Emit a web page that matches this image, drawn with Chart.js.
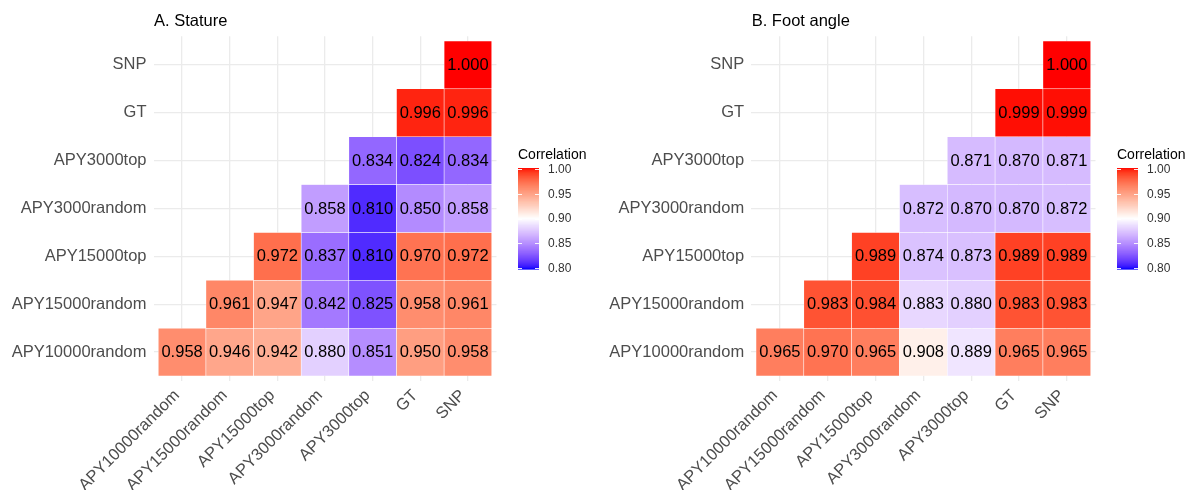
<!DOCTYPE html>
<html><head><meta charset="utf-8">
<script src="https://cdn.jsdelivr.net/npm/chart.js@4.4.1/dist/chart.umd.min.js"></script>
<style>
html,body{margin:0;padding:0;background:#fff;}
#wrap{width:1190px;height:490px;display:flex;}
.panel{width:595px;height:490px;position:relative;}
canvas{display:block;}
</style></head><body>
<div id="wrap">
  <div class="panel"><canvas id="c1" width="595" height="490"></canvas></div>
  <div class="panel"><canvas id="c2" width="595" height="490"></canvas></div>
</div>
<script>
// ---- data ----
const categories = ['APY10000random','APY15000random','APY15000top','APY3000random','APY3000top','GT','SNP'];
// row r (from bottom) holds the correlations for columns r .. 6
const statureValues = [
  [0.958, 0.946, 0.942, 0.880, 0.851, 0.950, 0.958],
  [0.961, 0.947, 0.842, 0.825, 0.958, 0.961],
  [0.972, 0.837, 0.810, 0.970, 0.972],
  [0.858, 0.810, 0.850, 0.858],
  [0.834, 0.824, 0.834],
  [0.996, 0.996],
  [1.000]
];
const footAngleValues = [
  [0.965, 0.970, 0.965, 0.908, 0.889, 0.965, 0.965],
  [0.983, 0.984, 0.883, 0.880, 0.983, 0.983],
  [0.989, 0.874, 0.873, 0.989, 0.989],
  [0.872, 0.870, 0.870, 0.872],
  [0.871, 0.870, 0.871],
  [0.999, 0.999],
  [1.000]
];
const panelTitles = ['A. Stature', 'B. Foot angle'];
const legendTitle = 'Correlation';
const legendTicks = [0.80, 0.85, 0.90, 0.95, 1.00];
const colorLimits = [0.80, 1.00];
const colorMid = 0.90;

// ---- colour scale (blue - white - red, interpolated in CIELAB) ----
function srgbToLab(rgb) {
  const lin = c => { c /= 255; return c <= 0.04045 ? c / 12.92 : Math.pow((c + 0.055) / 1.055, 2.4); };
  const R = lin(rgb[0]), G = lin(rgb[1]), B = lin(rgb[2]);
  const X = (R * 0.4124564 + G * 0.3575761 + B * 0.1804375) / 0.95047;
  const Y = (R * 0.2126729 + G * 0.7151522 + B * 0.0721750);
  const Z = (R * 0.0193339 + G * 0.1191920 + B * 0.9503041) / 1.08883;
  const f = t => t > 0.008856 ? Math.cbrt(t) : (7.787 * t + 16 / 116);
  const fx = f(X), fy = f(Y), fz = f(Z);
  return [116 * fy - 16, 500 * (fx - fy), 200 * (fy - fz)];
}
function labToSrgb(lab) {
  const fy = (lab[0] + 16) / 116, fx = fy + lab[1] / 500, fz = fy - lab[2] / 200;
  const finv = t => t * t * t > 0.008856 ? t * t * t : (t - 16 / 116) / 7.787;
  const X = finv(fx) * 0.95047, Y = finv(fy), Z = finv(fz) * 1.08883;
  const R = 3.2404542 * X - 1.5371385 * Y - 0.4985314 * Z;
  const G = -0.9692660 * X + 1.8760108 * Y + 0.0415560 * Z;
  const B = 0.0556434 * X - 0.2040259 * Y + 1.0572252 * Z;
  const gam = c => { c = c <= 0.0031308 ? 12.92 * c : 1.055 * Math.pow(c, 1 / 2.4) - 0.055; return Math.round(Math.max(0, Math.min(1, c)) * 255); };
  return [gam(R), gam(G), gam(B)];
}
const LAB_LOW = srgbToLab([0, 0, 255]), LAB_MID = srgbToLab([255, 255, 255]), LAB_HIGH = srgbToLab([255, 0, 0]);
function fillFor(v) {
  const half = Math.max(Math.abs(colorLimits[0] - colorMid), Math.abs(colorLimits[1] - colorMid));
  let t = (v - colorMid) / (2 * half) + 0.5;
  t = Math.max(0, Math.min(1, t));
  let a, b, u;
  if (t < 0.5) { a = LAB_LOW; b = LAB_MID; u = t / 0.5; } else { a = LAB_MID; b = LAB_HIGH; u = (t - 0.5) / 0.5; }
  const lab = [0, 1, 2].map(i => a[i] + (b[i] - a[i]) * u);
  const c = labToSrgb(lab);
  return 'rgb(' + c[0] + ',' + c[1] + ',' + c[2] + ')';
}

const FONT = '"Liberation Sans", Arial, sans-serif';

// ---- plugins ----
const cellLabels = {
  id: 'cellLabels',
  afterDatasetsDraw(chart) {
    const ctx = chart.ctx;
    const meta = chart.getDatasetMeta(0);
    const data = chart.data.datasets[0].data;
    ctx.save();
    ctx.font = '16.5px ' + FONT;
    ctx.fillStyle = '#000';
    ctx.textAlign = 'center';
    ctx.textBaseline = 'middle';
    meta.data.forEach((el, i) => {
      const p = el.getProps(['x', 'y', 'base'], true);
      ctx.fillText(data[i].v.toFixed(3), p.x, (p.y + p.base) / 2 + 0.5);
    });
    ctx.restore();
  }
};
const panelTitle = {
  id: 'panelTitle',
  afterDraw(chart, args, opts) {
    const ctx = chart.ctx;
    ctx.save();
    ctx.font = '16.5px ' + FONT;
    ctx.fillStyle = '#000';
    ctx.textAlign = 'left';
    ctx.textBaseline = 'middle';
    ctx.fillText(opts.text, chart.chartArea.left + 0.5, 21);
    ctx.restore();
  }
};
const colorLegend = {
  id: 'colorLegend',
  afterDraw(chart) {
    const ctx = chart.ctx;
    const x0 = chart.chartArea.right + 21.5;
    const top = 168, bottom = 269, w = 21;
    ctx.save();
    ctx.font = '14px ' + FONT;
    ctx.fillStyle = '#000';
    ctx.textAlign = 'left';
    ctx.textBaseline = 'middle';
    ctx.fillText(legendTitle, x0, 155);
    const n = 200;
    for (let i = 0; i < n; i++) {
      const v = colorLimits[1] - (colorLimits[1] - colorLimits[0]) * (i + 0.5) / n;
      ctx.fillStyle = fillFor(v);
      const y1 = top + (bottom - top) * i / n;
      ctx.fillRect(x0, y1, w, (bottom - top) / n + 0.6);
    }
    const yFor = v => bottom - 1 - (v - colorLimits[0]) / (colorLimits[1] - colorLimits[0]) * (bottom - top - 2);
    ctx.strokeStyle = 'rgba(255,255,255,0.9)';
    ctx.lineWidth = 1;
    ctx.font = '12px ' + FONT;
    ctx.fillStyle = '#333';
    legendTicks.forEach(v => {
      const y = Math.round(yFor(v)) + 0.5;
      ctx.beginPath();
      ctx.moveTo(x0, y); ctx.lineTo(x0 + 4, y);
      ctx.moveTo(x0 + w - 4, y); ctx.lineTo(x0 + w, y);
      ctx.stroke();
      ctx.fillText(v.toFixed(2), x0 + w + 9, yFor(v) + 0.5);
    });
    ctx.restore();
  }
};

function makeChart(canvasId, values, title, area) {
  const cells = [];
  values.forEach((row, r) => row.forEach((v, k) => cells.push({ x: r + k, y: [r - 0.5, r + 0.5], v: v })));
  const tickFont = { family: FONT, size: 16.5 };
  const grid = { color: '#EBEBEB', lineWidth: 1.3, drawTicks: false, offset: false };
  const setTicks = s => { s.ticks = categories.map((_, i) => ({ value: i })); };
  return new Chart(document.getElementById(canvasId), {
    type: 'bar',
    data: {
      datasets: [{
        data: cells,
        backgroundColor: ctx => (ctx.raw ? fillFor(ctx.raw.v) : 'transparent'),
        borderColor: 'rgba(255,255,255,0.55)',
        borderWidth: 0.6,
        borderSkipped: false,
        barPercentage: 1,
        categoryPercentage: 1,
        grouped: false
      }]
    },
    options: {
      responsive: false,
      animation: false,
      events: [],
      layout: { padding: { top: area.top, right: 595 - area.right, left: 0, bottom: 0 } },
      plugins: { legend: { display: false }, tooltip: { enabled: false }, panelTitle: { text: title } },
      scales: {
        x: {
          type: 'linear', min: -0.6, max: 6.6, offset: false,
          grid: grid, border: { display: false },
          afterBuildTicks: setTicks,
          afterFit: s => { s.height = 490 - area.bottom; },
          ticks: { callback: v => categories[v], autoSkip: false, maxRotation: 45, minRotation: 45,
                   padding: 5, labelOffset: -5, color: '#4D4D4D', font: tickFont }
        },
        y: {
          type: 'linear', min: -0.6, max: 6.6, offset: false,
          grid: grid, border: { display: false },
          afterBuildTicks: setTicks,
          afterFit: s => { s.width = area.left; },
          ticks: { callback: v => categories[v], autoSkip: false, padding: 7, color: '#4D4D4D', font: tickFont }
        }
      }
    },
    plugins: [cellLabels, panelTitle, colorLegend]
  });
}

makeChart('c1', statureValues, panelTitles[0], { left: 153.5, right: 496.5, top: 36.2, bottom: 380.8 });
makeChart('c2', footAngleValues, panelTitles[1], { left: 156.2, right: 500.5, top: 36.2, bottom: 380.8 });
</script>
</body></html>
